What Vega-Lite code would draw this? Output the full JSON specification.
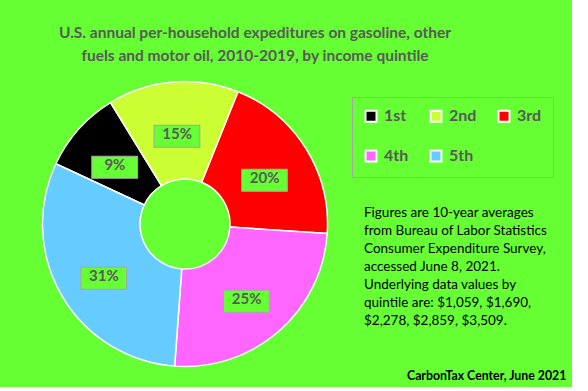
{
  "$schema": "https://vega.github.io/schema/vega-lite/v6.json",
  "background": "#66FF33",
  "padding": {"left": 39, "top": 26, "right": 5, "bottom": 5},
  "config": {"view": {"stroke": null}, "font": "Lato"},
  "spacing": 6,
  "bounds": "flush",
  "resolve": {"legend": {"color": "independent"}},
  "hconcat": [
    {
      "width": 260, "height": 260,
      "title": {
        "text": ["U.S. annual per-household expeditures on gasoline, other", "fuels and motor oil, 2010-2019, by income quintile"],
        "fontSize": 15.5, "font": "Lato", "fontWeight": "bold", "color": "#595959",
        "anchor": "middle", "frame": "group", "dx": 70, "offset": 14, "lineHeight": 23
      },
      "data": {"values": [
        {"quintile": "1st", "spending": 1059, "share": "9%"},
        {"quintile": "2nd", "spending": 1690, "share": "15%"},
        {"quintile": "3rd", "spending": 2278, "share": "20%"},
        {"quintile": "4th", "spending": 2859, "share": "25%"},
        {"quintile": "5th", "spending": 3509, "share": "31%"}
      ]},
      "encoding": {
        "theta": {"field": "spending", "type": "quantitative", "stack": true, "scale": {"range": [-1.134, 5.149]}},
        "order": {"field": "quintile", "type": "ordinal", "sort": "ascending"}
      },
      "layer": [
        {
          "mark": {"type": "arc", "outerRadius": 142.5, "innerRadius": 45, "stroke": "white", "strokeWidth": 1.5},
          "encoding": {
            "color": {
              "field": "quintile", "type": "nominal",
              "scale": {"domain": ["1st", "2nd", "3rd", "4th", "5th"], "range": ["#000000", "#CCFF33", "#FF0000", "#FF66FF", "#66CCFF"]},
              "legend": {
                "orient": "none", "legendX": 297, "legendY": 3, "direction": "horizontal", "columns": 3,
                "title": null, "symbolType": "square", "symbolSize": 120, "symbolStrokeColor": "white",
                "symbolStrokeWidth": 2, "symbolOpacity": 1, "labelFontSize": 16, "labelFont": "Lato",
                "labelFontWeight": "bold", "labelColor": "#595959", "strokeColor": "#A6A6A6",
                "padding": 11, "columnPadding": 17, "rowPadding": 20, "labelOffset": 5
              }
            }
          }
        },
        {
          "mark": {"type": "text", "text": "▬", "radius": 94, "dy": 4, "font": "DejaVu Sans", "fontSize": 60, "fill": "#66FF33", "stroke": "#A6A6A6", "strokeWidth": 1}
        },
        {
          "mark": {"type": "text", "radius": 94, "dy": 4, "fontSize": 15, "fontWeight": "bold", "font": "Lato", "color": "#595959"},
          "encoding": {"text": {"field": "share"}}
        }
      ]
    },
    {
      "width": 86, "height": 224,
      "data": {"values": [
        {"note": "Figures are 10-year averages\nfrom Bureau of Labor Statistics\nConsumer Expenditure Survey,\naccessed June 8, 2021.\nUnderlying data values by\nquintile are: $1,059, $1,690,\n$2,278, $2,859, $3,509."}
      ]},
      "mark": {"type": "text", "align": "left", "baseline": "top", "lineBreak": "\n", "lineHeight": 18, "fontSize": 13.5, "font": "Lato", "color": "black"},
      "encoding": {"text": {"field": "note"}},
      "title": {
        "text": "CarbonTax Center, June 2021", "orient": "bottom", "anchor": "end", "align": "left",
        "frame": "group", "fontSize": 12.3, "font": "Lato", "fontWeight": "bold", "color": "black", "offset": 42
      }
    }
  ]
}
